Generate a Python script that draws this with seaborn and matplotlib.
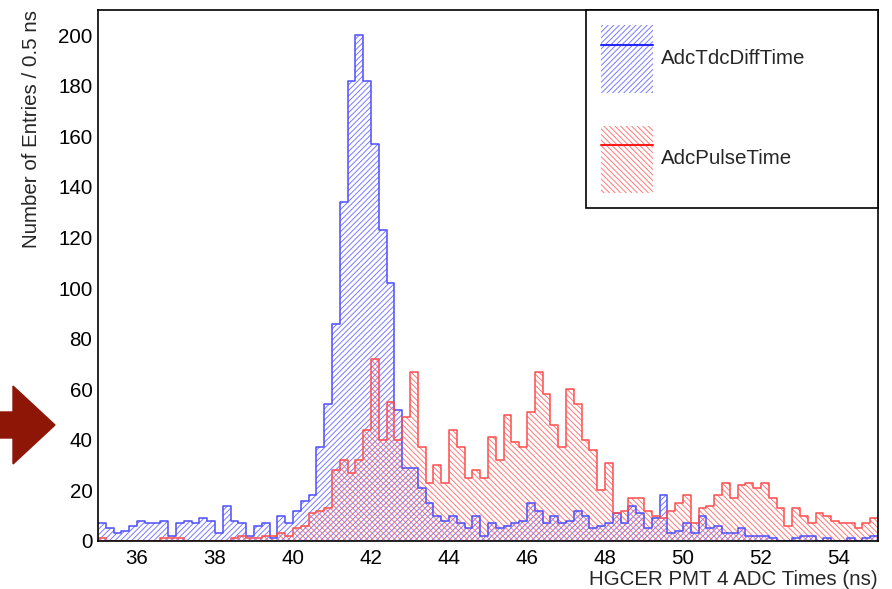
import numpy as np
import pandas as pd
import matplotlib
matplotlib.use("Agg")
import matplotlib.pyplot as plt
import seaborn as sns
from matplotlib.patches import Patch, FancyArrow
from matplotlib.lines import Line2D
from matplotlib.legend_handler import HandlerTuple
from matplotlib.ticker import MultipleLocator, FixedLocator
from matplotlib.transforms import IdentityTransform

# ---------------- data (counts per 0.2 ns bin, 35 -> 55 ns) ----------------
x_min = 35.0
x_max = 55.0
bin_width = 0.2

adc_tdc_diff_time = [
    7, 5, 3, 4, 6, 8, 7, 7, 8, 2,
    7, 8, 7, 9, 8, 3, 14, 8, 7, 2,
    6, 7, 1, 10, 7, 12, 16, 18, 37, 54,
    86, 134, 182, 200, 182, 157, 123, 102, 52, 29,
    29, 21, 15, 10, 8, 10, 7, 5, 10, 2,
    7, 5, 6, 7, 8, 15, 12, 7, 10, 7,
    8, 12, 10, 5, 6, 7, 11, 7, 14, 11,
    5, 9, 18, 3, 4, 7, 3, 10, 5, 6,
    3, 3, 5, 2, 2, 2, 1, 0, 0, 1,
    2, 2, 0, 1, 0, 0, 1, 0, 1, 2,
]

adc_pulse_time = [
    1, 0, 0, 0, 0, 0, 0, 0, 1, 1,
    1, 0, 0, 0, 0, 0, 0, 1, 2, 1,
    1, 2, 2, 3, 2, 5, 6, 11, 12, 13,
    28, 32, 27, 32, 44, 72, 40, 55, 40, 49,
    67, 37, 23, 30, 23, 44, 37, 25, 28, 25,
    41, 32, 50, 39, 37, 51, 67, 58, 46, 37,
    60, 54, 40, 36, 20, 31, 11, 12, 17, 17,
    12, 10, 9, 12, 15, 18, 7, 13, 14, 18,
    23, 17, 22, 23, 21, 23, 17, 13, 6, 13,
    10, 7, 11, 10, 8, 7, 7, 5, 7, 9,
]

series_names = ["AdcTdcDiffTime", "AdcPulseTime"]
x_tick_values = [36, 38, 40, 42, 44, 46, 48, 50, 52, 54]
y_tick_values = [0, 20, 40, 60, 80, 100, 120, 140, 160, 180, 200]
x_label = "HGCER PMT 4 ADC Times (ns)"
y_label = "Number of Entries / 0.5 ns"

# ---------------- styling ----------------
sns.set_style("white")
plt.rcParams["font.family"] = ["Liberation Sans", "DejaVu Sans"]
plt.rcParams["hatch.linewidth"] = 0.7
FS = 14.8
PX = 100 / 72  # points -> pixels at 100 dpi

blue_edge = (0.3, 0.3, 1.0, 0.8)
blue_hatch = (0.35, 0.35, 1.0, 0.8)
red_edge = (1.0, 0.3, 0.3, 0.8)
red_hatch = (1.0, 0.35, 0.35, 0.8)
styles = {
    "AdcTdcDiffTime": dict(edge=blue_edge, hatch_col=blue_hatch, line=(0.15, 0.15, 1.0), hatch="//////"),
    "AdcPulseTime": dict(edge=red_edge, hatch_col=red_hatch, line=(1.0, 0.1, 0.1), hatch="\\\\\\\\\\\\"),
}

edges = [round(x_min + bin_width * i, 6) for i in range(len(adc_tdc_diff_time) + 1)]
centers = [e + bin_width / 2 for e in edges[:-1]]
df = pd.DataFrame({
    "time": centers + centers,
    "count": [float(v) for v in adc_tdc_diff_time + adc_pulse_time],
    "series": [series_names[0]] * len(centers) + [series_names[1]] * len(centers),
})

fig = plt.figure(figsize=(8.92, 5.89), dpi=100)
ax = fig.add_axes([98 / 892, 1 - 541 / 589, 780 / 892, 531 / 589])

for name in series_names:
    st = styles[name]
    sub = df[df["series"] == name]
    n_before = len(ax.collections)
    sns.histplot(data=sub, x="time", weights="count", bins=edges, element="step",
                 fill=True, alpha=1, color=st["line"], ax=ax, legend=False)
    for coll in ax.collections[n_before:]:
        coll.set_alpha(None)
        coll.set_facecolor("none")
        coll.set_edgecolor(st["hatch_col"])
        coll.set_hatch(st["hatch"])
        coll.set_linewidth(0)
    # outline
    sns.histplot(data=sub, x="time", weights="count", bins=edges, element="step",
                 fill=False, color=st["edge"], ax=ax, legend=False, linewidth=1.1)

ax.set_xlim(x_min, x_max)
ax.set_ylim(0, 210)
ax.xaxis.set_major_locator(FixedLocator(x_tick_values))
ax.xaxis.set_minor_locator(MultipleLocator(0.5))
ax.yaxis.set_major_locator(FixedLocator(y_tick_values))
ax.yaxis.set_minor_locator(MultipleLocator(5))
ax.tick_params(which="both", direction="in", top=False, right=False, colors="black",
               labelsize=FS, width=1.1)
ax.tick_params(axis="x", which="major", length=10.5, pad=6)
ax.tick_params(axis="x", which="minor", length=5.2)
ax.tick_params(axis="y", which="major", length=16.5, pad=4)
ax.tick_params(axis="y", which="minor", length=8.5)
for sp in ax.spines.values():
    sp.set_visible(True)
    sp.set_color("black")
    sp.set_linewidth(1.2)

ax.set_xlabel(x_label, fontsize=FS, loc="right", labelpad=1)
ax.set_ylabel(y_label, fontsize=FS, loc="top", labelpad=12.5)

handles = []
for name in series_names:
    st = styles[name]
    p = Patch(facecolor="none", edgecolor=st["hatch_col"], hatch=st["hatch"], linewidth=0)
    l = Line2D([], [], color=st["line"], linewidth=1.5)
    handles.append((p, l))
x0 = (586 - 98) / 780
leg = ax.legend(handles, series_names, handler_map={tuple: HandlerTuple(ndivide=1, pad=0)},
                loc="upper left", bbox_to_anchor=(x0, 0, 1 - x0, 1), mode="expand",
                borderaxespad=0, fontsize=FS, handlelength=2.5, handleheight=3.35 * PX,
                labelspacing=1.6, borderpad=0.75, handletextpad=0.4,
                frameon=True, fancybox=False, framealpha=1)
leg.get_frame().set_edgecolor("black")
leg.get_frame().set_linewidth(1.2)

# decorative arrow at the left edge
arrow = FancyArrow(-10, 589 - 425, 65, 0, width=26, head_width=78, head_length=42,
                   length_includes_head=True, color="#8e1606", transform=IdentityTransform(),
                   figure=fig)
fig.patches.append(arrow)

fig.savefig("out.png", dpi=100)
